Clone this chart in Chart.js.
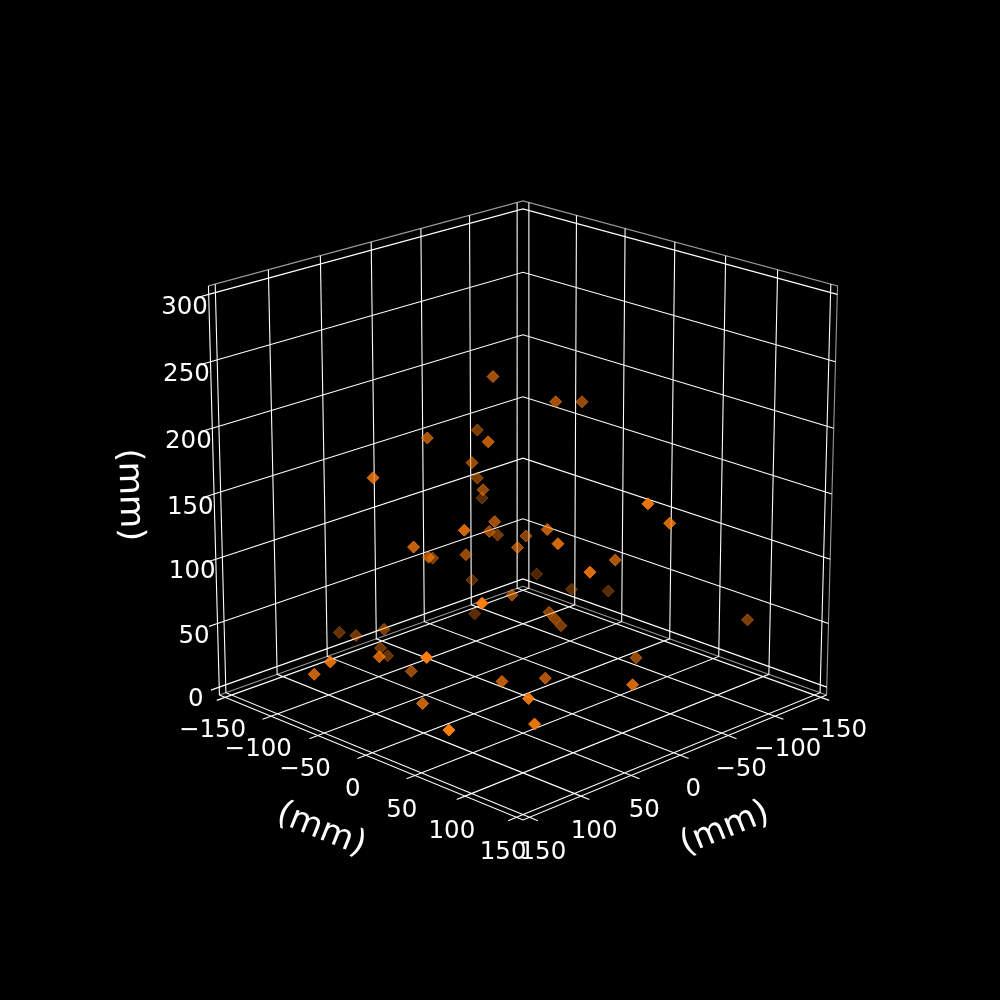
<!DOCTYPE html>
<html><head><meta charset="utf-8"><style>html,body{margin:0;padding:0;background:#000}canvas{display:block}</style>
<script src="https://cdn.jsdelivr.net/npm/chart.js@4"></script></head><body>
<canvas id="c" width="1000" height="1000" style="width:1000px;height:1000px"></canvas>
<script>
const xTicks=[-150,-100,-50,0,50,100,150];
const yTicks=[-150,-100,-50,0,50,100,150];
const zTicks=[0,50,100,150,200,250,300];
const axisTitle='(mm)';
const xMm=[-26.8,-54.5,-77.7,-37.9,5.9,26.8,-10.5,-29.4,-11.4,-56.6,-2.4,-7.4,-39.3,52.0,-34.9,-8.9,7.3,-9.6,71.1,8.7,46.8,7.9,88.8,-25.0,-52.2,-47.7,5.8,-81.2,-87.3,-106.3,-7.9,-33.4,-35.3,-46.7,-144.5,-60.6,-6.0,8.4,40.3,67.2,68.6,-36.6,93.4,-31.9,51.5,52.4,45.7,41.8,30.4,107.2,150.6,143.0,129.7,57.2,93.4,130.9];
const yMm=[-57.5,-21.1,-17.1,-85.3,-29.3,-70.6,-62.9,-76.8,-52.5,-99.7,-31.4,-42.0,-65.8,-6.9,-31.8,15.7,42.4,-15.2,-39.2,-49.9,-49.3,-85.8,-61.6,99.1,94.9,46.2,72.6,-66.7,-36.2,-16.6,-19.2,-6.5,-2.3,-7.3,88.4,55.5,103.9,31.1,19.0,72.8,80.1,-90.3,53.1,-82.8,-140.8,-121.7,-98.4,-106.7,-111.4,-37.6,-41.7,-67.4,35.0,-57.6,-7.8,58.1];
const zMm=[219.3,202.1,197.5,168.8,184.0,182.0,155.7,135.6,137.1,107.1,120.1,108.4,91.1,134.1,100.3,124.7,125.1,102.5,117.8,92.5,100.9,80.0,169.3,161.6,138.8,98.9,111.1,48.5,42.9,41.7,64.7,47.7,43.1,33.1,37.2,21.7,30.5,18.6,21.8,32.3,15.4,49.4,106.2,25.7,17.9,21.0,30.6,12.3,1.5,43.9,51.2,32.1,70.6,12.4,12.5,22.9];
const el=19.7*Math.PI/180,az=Math.PI/4,D=10,A=.53,H=.527,S=4122,X0=523,Y0=494.1;
const ce=Math.cos(el),se=Math.sin(el),ca=Math.cos(az),sz=Math.sin(az);
const W=[ce*ca,ce*sz,se],U=[-sz,ca,0],V=[-se*ca,-se*sz,ce];
const dot=(a,b)=>a[0]*b[0]+a[1]*b[1]+a[2]*b[2];
const lo=-156.25,hi=156.25,zlo=-6.25,zhi=306.25;
function world(x,y,z){return [x/312.5*2*A,y/312.5*2*A,(z-150)/312.5*2*H];}
function project(x,y,z){const p=world(x,y,z);const w=dot(W,p),d=D-w;return {x:X0+S*dot(U,p)/d,y:Y0-S*dot(V,p)/d,w};}
const raw=xMm.map((x,i)=>project(x,yMm[i],zMm[i]));
const wMin=Math.min(...raw.map(p=>p.w)),wMax=Math.max(...raw.map(p=>p.w));
const pts=raw.map(p=>({x:p.x,y:p.y,w:p.w,a:1-.7*(wMax-p.w)/(wMax-wMin)})).sort((a,b)=>a.w-b.w);
function seg(list){const o=[];list.forEach(l=>{l.forEach(q=>o.push(project(q[0],q[1],q[2])));o.push({x:NaN,y:NaN});});return o;}
const T=8;
const grid=[];
xTicks.forEach(t=>grid.push([[t,hi+T,zlo],[t,hi,zlo],[t,lo,zlo],[t,lo,zhi]]));
yTicks.forEach(t=>grid.push([[hi+T,t,zlo],[hi,t,zlo],[lo,t,zlo],[lo,t,zhi]]));
zTicks.forEach(t=>grid.push([[hi+T,lo,t],[hi,lo,t],[lo,lo,t],[lo,hi,t]]));
const axes=[[[hi,lo,zlo],[hi,hi,zlo],[lo,hi,zlo]],[[hi,lo,zlo],[hi,lo,zhi]]];
const panes=[[[hi,lo,zhi],[lo,lo,zhi],[lo,hi,zhi],[lo,hi,zlo]],[[hi,lo,zlo],[lo,lo,zlo],[lo,hi,zlo]]];
const line=(data,color,w)=>({type:'scatter',data,showLine:true,pointRadius:0,borderColor:color,borderWidth:w,spanGaps:false,tension:0,order:5});
const texts={id:'texts',afterDatasetsDraw(ch){const c=ch.ctx;c.save();c.fillStyle='#fff';c.textAlign='center';c.textBaseline='middle';
 const lab=v=>String(v).replace('-','\u2212');
 c.font='24.5px "DejaVu Sans"';
 xTicks.forEach(t=>{const p=project(t,hi+12.8,zlo-22.5);c.fillText(lab(t),p.x,p.y);});
 yTicks.forEach(t=>{const p=project(hi+12.8,t,zlo-22.5);c.fillText(lab(t),p.x,p.y);});
 zTicks.forEach(t=>{const p=project(hi+12.2,lo-12.2,t-10);c.fillText(lab(t),p.x,p.y);});
 c.font='34px "DejaVu Sans"';
 [[321,830,22],[725,829,-22],[129.3,495,88.5]].forEach(q=>{c.save();c.translate(q[0],q[1]);c.rotate(q[2]*Math.PI/180);c.fillText(axisTitle,0,0);c.restore();});
 c.restore();}};
new Chart(document.getElementById('c'),{type:'scatter',data:{datasets:[
 line(seg(panes),'rgba(255,255,255,.6)',1.1),line(seg(grid),'#fff',1.1),line(seg(axes),'#fff',1.1),
 {data:pts.map(p=>({x:p.x,y:p.y})),pointStyle:'rectRot',pointRadius:6,pointBorderWidth:1,
  pointBackgroundColor:pts.map(p=>`rgba(255,127,14,${p.a})`),pointBorderColor:pts.map(p=>`rgba(255,127,14,${p.a})`),showLine:false,order:1}]},
 options:{responsive:false,animation:false,devicePixelRatio:1,layout:{padding:0,autoPadding:false},plugins:{legend:{display:false},tooltip:{enabled:false}},
 scales:{x:{display:false,min:0,max:1000},y:{display:false,min:0,max:1000,reverse:true}}},plugins:[{id:'bg',beforeDraw(ch){ch.ctx.fillStyle='#000';ch.ctx.fillRect(0,0,1000,1000);}},texts]});
</script></body></html>
